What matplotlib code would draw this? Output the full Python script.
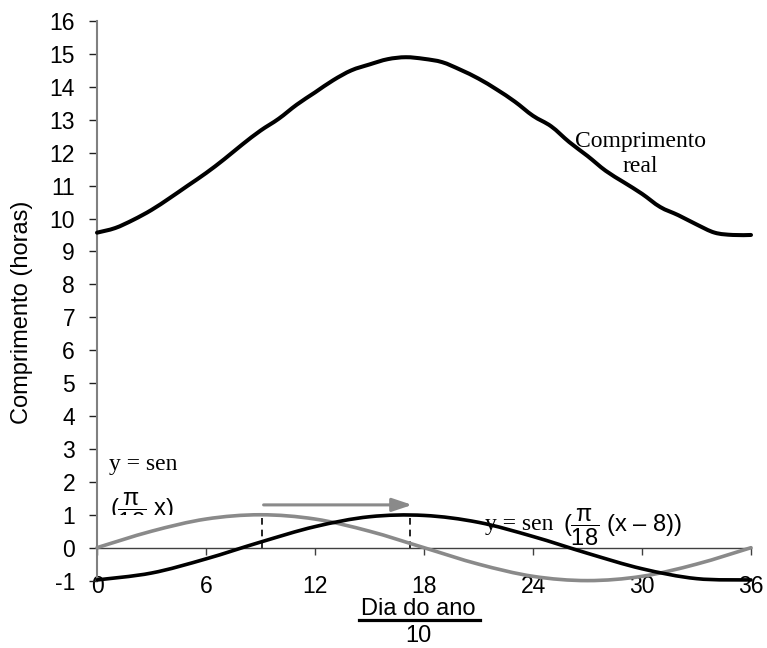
import matplotlib
matplotlib.use('Agg')
import matplotlib.pyplot as plt
from matplotlib import rcParams
from matplotlib.path import Path
from matplotlib.patches import PathPatch
from matplotlib.lines import Line2D
from matplotlib.transforms import Bbox, TransformedBbox

rcParams['font.family'] = ['Liberation Sans', 'DejaVu Sans']
rcParams['mathtext.fontset'] = 'custom'
rcParams['mathtext.rm'] = 'Liberation Sans'
rcParams['mathtext.it'] = 'Liberation Sans:italic'
rcParams['axes.unicode_minus'] = False

# day of year / 10 and real day length (hours)
days = list(range(0, 37))
real_len = [9.57, 9.71, 9.96, 10.26, 10.62, 11.0, 11.38, 11.8, 12.25, 12.67,
            13.03, 13.46, 13.83, 14.2, 14.5, 14.68, 14.84, 14.9, 14.85, 14.75,
            14.52, 14.25, 13.92, 13.55, 13.12, 12.8, 12.32, 11.9, 11.45, 11.1,
            10.75, 10.35, 10.1, 9.82, 9.57, 9.5, 9.5]

# the two sine curves (points every 3 units)
sin_x = [0, 3, 6, 9, 12, 15, 18, 21, 24, 27, 30, 33, 36]
sin_base = [0, 0.5, 0.87, 1.0, 0.87, 0.5, 0, -0.5, -0.87, -1.0, -0.87, -0.5, 0]
sin_shift = [-0.98, -0.77, -0.34, 0.17, 0.64, 0.94, 0.98, 0.77, 0.34, -0.17,
             -0.64, -0.94, -0.98]

shift_from, shift_to = 9.1, 17.25
xticks = [0, 6, 12, 18, 24, 30, 36]
yticks = list(range(-1, 17))

GRAY = '#8a8a8a'


def smooth_path(xs, ys):
    # excel-like smoothed line (catmull-rom as cubic bezier)
    n = len(xs)
    verts = [(xs[0], ys[0])]
    codes = [Path.MOVETO]
    for i in range(n - 1):
        a = max(i - 1, 0)
        b = min(i + 2, n - 1)
        c1 = (xs[i] + (xs[i + 1] - xs[a]) / 6, ys[i] + (ys[i + 1] - ys[a]) / 6)
        c2 = (xs[i + 1] - (xs[b] - xs[i]) / 6, ys[i + 1] - (ys[b] - ys[i]) / 6)
        verts += [c1, c2, (xs[i + 1], ys[i + 1])]
        codes += [Path.CURVE4] * 3
    return Path(verts, codes)


fig = plt.figure(figsize=(7.67, 6.48), dpi=100)
ax = fig.add_axes([97 / 767, (648 - 580.6) / 648, 654 / 767, 559.6 / 648])
ax.set_xlim(0, 36)
ax.set_ylim(-1, 16)

for xs, ys, col, lw in [(days, real_len, 'black', 2.9),
                        (sin_x, sin_base, GRAY, 2.6),
                        (sin_x, sin_shift, 'black', 2.6)]:
    p = PathPatch(smooth_path(xs, ys), fill=False, edgecolor=col, lw=lw,
                  capstyle='round', joinstyle='round', zorder=3, clip_on=False)
    ax.add_patch(p)

# shift markers
for xv in (shift_from, shift_to):
    ax.plot([xv, xv], [0, 1], color='black', lw=1.2, dashes=(4, 3), zorder=2)
ax.annotate('', xy=(shift_to + 0.1, 1.3), xytext=(shift_from + 0.07, 1.3),
            arrowprops=dict(arrowstyle='-|>,head_length=0.6,head_width=0.2',
                            color=GRAY, lw=2.2, mutation_scale=20,
                            shrinkA=0, shrinkB=0))

# spines / ticks
for s in ['top', 'right']:
    ax.spines[s].set_visible(False)
ax.spines['left'].set_color('#808080')
ax.spines['left'].set_linewidth(1.5)
ax.spines['bottom'].set_position(('data', 0))
ax.spines['bottom'].set_color('#404040')
ax.spines['bottom'].set_linewidth(1.0)
ax.set_xticks(xticks)
ax.set_yticks(yticks)
ax.tick_params(axis='x', direction='out', length=5, width=1, color='#404040',
               pad=14.5, labelsize=16.5)
ax.tick_params(axis='y', direction='out', length=5.8, width=1, color='#202020',
               pad=10, labelsize=16.5)

# labels
fig.text(22 / 767, 1 - 312 / 648, 'Comprimento (horas)', rotation=90,
         ha='center', va='center', fontsize=17)
fig.text(418 / 767, 1 - 615 / 648, 'Dia do ano', ha='center', va='baseline',
         fontsize=17)
fig.add_artist(Line2D([359 / 767, 480 / 767], [1 - 620.3 / 648] * 2,
                      transform=fig.transFigure, color='black', lw=2.3))
fig.text(418 / 767, 1 - 642 / 648, '10', ha='center', va='baseline', fontsize=17)

serif = ['Liberation Serif', 'DejaVu Serif']
ax.text(29.93, 12.18, 'Comprimento', family=serif, fontsize=17,
        ha='center', va='baseline', zorder=1)
ax.text(29.93, 11.4, 'real', family=serif, fontsize=17,
        ha='center', va='baseline', zorder=1)

# first formula, cut off by the plot line at y = 1
ax.text(0.66, 2.36, 'y = sen', family=serif, fontsize=17, va='baseline', zorder=1)
t = ax.text(0.71, 0.95, r'($\mathregular{\dfrac{π}{18}}$ x)', fontsize=17,
            va='baseline', zorder=1)
t.set_clip_box(TransformedBbox(Bbox([[0, 1], [36, 20]]), ax.transData))
t.set_clip_on(True)

# second formula
ax.text(21.34, 0.54, 'y = sen', family=serif, fontsize=17, va='baseline', zorder=1)
ax.text(25.63, 0.48, r'($\mathregular{\dfrac{π}{18}}$ (x – 8))', fontsize=17,
        va='baseline', zorder=1)

plt.savefig('out.png', dpi=100)
plt.close()
